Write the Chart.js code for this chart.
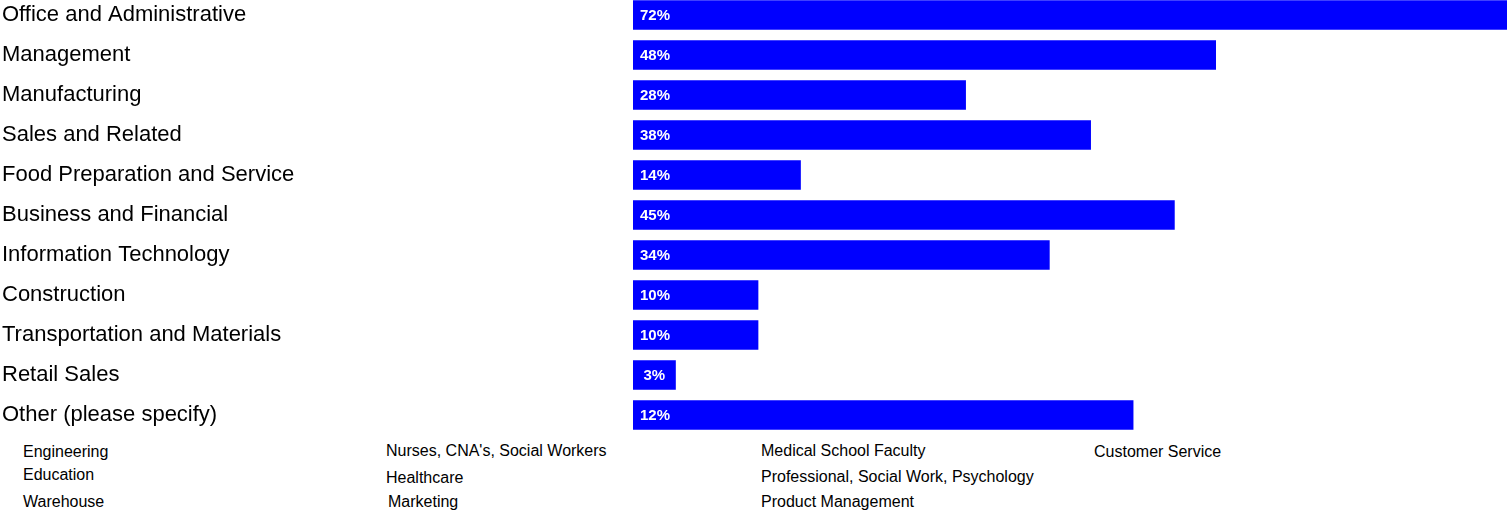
<!DOCTYPE html>
<html>
<head>
<meta charset="utf-8">
<script src="https://cdn.jsdelivr.net/npm/chart.js@4/dist/chart.umd.min.js"></script>
<style>
    html, body { margin: 0; padding: 0; background: #fff; }
    body { width: 1509px; height: 512px; position: relative; overflow: hidden; font-family: "Liberation Sans", Arial, sans-serif; }
    #wrap { position: absolute; left: 0; top: -5px; width: 1509px; height: 440px; }
    .other { position: absolute; font-size: 16px; color: #000; white-space: nowrap; line-height: 18px; }
</style>
</head>
<body>
<div id="wrap"><canvas id="occupationChart"></canvas></div>
<div id="others"></div>

<script>
// Occupation categories and bar values
const categories = [
    'Office and Administrative',
    'Management',
    'Manufacturing',
    'Sales and Related',
    'Food Preparation and Service',
    'Business and Financial',
    'Information Technology',
    'Construction',
    'Transportation and Materials',
    'Retail Sales',
    'Other (please specify)'
];
const barValues = [72, 48, 27.4, 37.7, 13.8, 44.6, 34.3, 10.3, 10.3, 3.5, 41.2];
const pctLabels = ['72%', '48%', '28%', '38%', '14%', '45%', '34%', '10%', '10%', '3%', '12%'];

// "Other" write-in answers shown under the chart
const otherAnswers = [
    'Engineering', 'Education', 'Warehouse',
    "Nurses, CNA's, Social Workers", 'Healthcare', 'Marketing',
    'Medical School Faculty', 'Professional, Social Work, Psychology', 'Product Management',
    'Customer Service'
];
const otherPositions = [
    [23, 443], [23, 466], [23, 493],
    [386, 442], [386, 469], [388, 493],
    [761, 442], [761, 468], [761, 493],
    [1094, 443]
];

// Put the write-in answers in place
const othersBox = document.getElementById('others');
otherAnswers.forEach((text, i) => {
    const div = document.createElement('div');
    div.className = 'other';
    div.textContent = text;
    div.style.left = otherPositions[i][0] + 'px';
    div.style.top = otherPositions[i][1] + 'px';
    othersBox.appendChild(div);
});

// White percentage text inside every bar
const barLabelPlugin = {
    id: 'barLabels',
    afterDatasetsDraw(chart) {
        const ctx = chart.ctx;
        const meta = chart.getDatasetMeta(0);
        ctx.save();
        ctx.font = 'bold 15px "Liberation Sans", Arial, sans-serif';
        ctx.fillStyle = '#ffffff';
        ctx.textBaseline = 'middle';
        meta.data.forEach((bar, i) => {
            const width = bar.x - bar.base;
            if (width < 60) {
                ctx.textAlign = 'center';
                ctx.fillText(pctLabels[i], bar.base + width / 2, bar.y + 1);
            } else {
                ctx.textAlign = 'left';
                ctx.fillText(pctLabels[i], bar.base + 7, bar.y + 1);
            }
        });
        ctx.restore();
    }
};

const ctx = document.getElementById('occupationChart').getContext('2d');
new Chart(ctx, {
    type: 'bar',
    data: {
        labels: categories,
        datasets: [{
            data: barValues,
            backgroundColor: '#0000ff',
            borderWidth: 0,
            barThickness: 29
        }]
    },
    options: {
        indexAxis: 'y',
        responsive: true,
        maintainAspectRatio: false,
        animation: false,
        layout: { padding: { left: 2, right: 2, top: 0, bottom: 0 } },
        plugins: {
            legend: { display: false },
            tooltip: { enabled: false }
        },
        scales: {
            x: {
                display: false,
                min: 0,
                max: 72
            },
            y: {
                grid: { display: false },
                border: { display: false },
                ticks: {
                    autoSkip: false,
                    crossAlign: 'far',
                    color: '#000000',
                    padding: 0,
                    font: { family: '"Liberation Sans", Arial, sans-serif', size: 22 }
                },
                afterFit: function(scale) {
                    scale.width = 631;
                    // no extra room above/below for the first and last labels
                    scale.paddingTop = 0;
                    scale.paddingBottom = 0;
                }
            }
        }
    },
    plugins: [barLabelPlugin]
});
</script>
</body>
</html>
